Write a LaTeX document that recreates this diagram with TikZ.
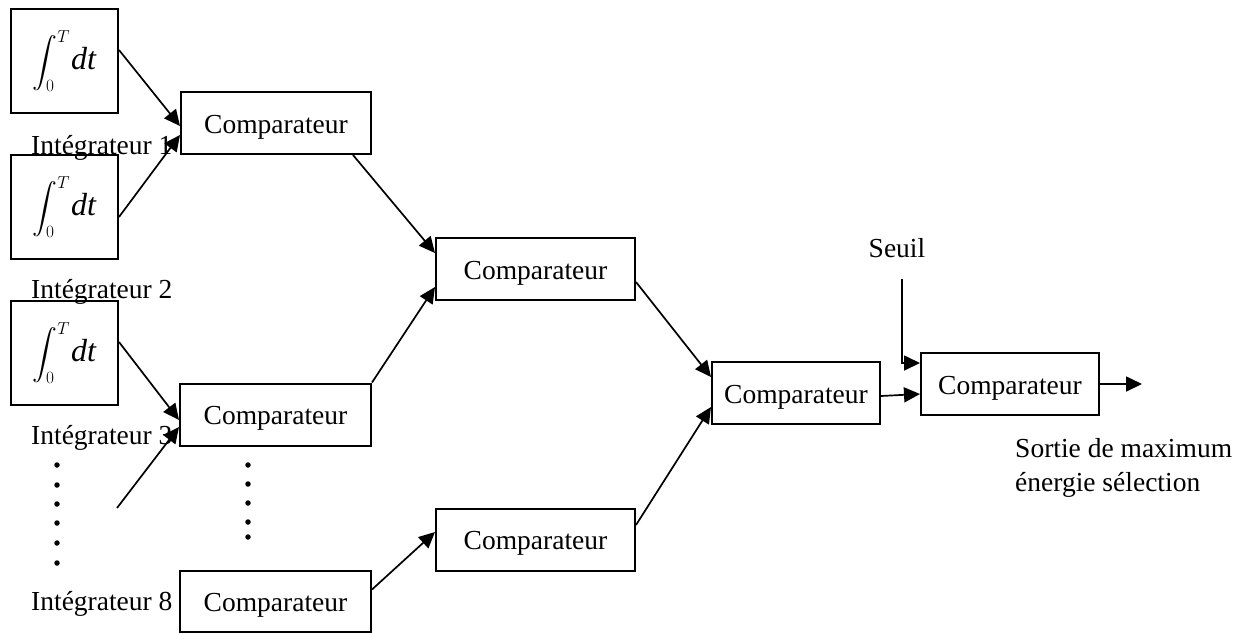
\documentclass[tikz,border=0pt]{standalone}
\usepackage{exscale}
\usepackage{fontspec}
\setmainfont{Liberation Serif}
\usetikzlibrary{arrows.meta}
\begin{document}
\begin{tikzpicture}[x=1pt,y=-1pt,
  font=\fontsize{27.5}{33}\selectfont,
  box/.style={draw,line width=2pt,inner sep=0pt,anchor=center},
  integ/.style={box,minimum width=107pt,minimum height=104pt},
  comp/.style={box,minimum height=62pt,text height=23pt,text depth=3pt},
  wire/.style={line width=1.7pt,-{Triangle[length=16pt,width=15pt]}},
  lbl/.style={anchor=base west,inner sep=0pt},
  dot/.style={fill,circle,inner sep=0pt,minimum size=5.5pt}]
\useasboundingbox (0,0) rectangle (1253,633);

% integrators
\newcommand{\integrand}{{\fontsize{23}{27}\selectfont$\displaystyle\int_0^T$}\hspace{1pt}{\fontsize{32}{36}\selectfont\textit{dt}}\hspace{4pt}}
\node[integ] (i1) at (64.5,61)  {\integrand};
\node[integ] (i2) at (64.5,207) {\integrand};
\node[integ] (i3) at (64.5,353) {\integrand};

\node[lbl] (l1) at (31,154) {Intégrateur 1};
\node[lbl] (l2) at (31,298) {Intégrateur 2};
\node[lbl] (l3) at (31,444) {Intégrateur 3};
\node[lbl] (l8) at (31,610) {Intégrateur 8};

% comparator tree
\node[comp,minimum width=190pt] (c1a) at (276,123)    {Comparateur};
\node[comp,minimum width=191pt] (c1b) at (275.5,414.5) {Comparateur};
\node[comp,minimum width=191pt,minimum height=61pt] (c1d) at (275.5,601) {Comparateur};
\node[comp,minimum width=199pt] (c2a) at (535.5,269)  {Comparateur};
\node[comp,minimum width=199pt] (c2b) at (535.5,539.5) {Comparateur};
\node[comp,minimum width=168pt] (c3)  at (796,393)    {Comparateur};
\node[comp,minimum width=178pt] (c4)  at (1010,384)   {Comparateur};

\node[anchor=base,inner sep=0pt] (seuil) at (897,257) {Seuil};
\node[lbl] (so1) at (1015,457) {Sortie de maximum};
\node[lbl] (so2) at (1015,491) {énergie sélection};

\coordinate (free) at (117,508);
\coordinate (s0) at (902,279);
\coordinate (s1) at (902,363);
\coordinate (out) at (1142,384);

% connectors
\draw[wire] ([yshift=11pt]i1.east) -- ([yshift=-3pt]c1a.west);
\draw[wire] ([yshift=-10pt]i2.east) -- ([yshift=-12pt]c1a.west);
\draw[wire] ([xshift=-19pt]c1a.south east) -- ([yshift=16pt]c2a.west);
\draw[wire] (c1b.north east) -- ([yshift=-18pt]c2a.west);
\draw[wire] ([yshift=11pt]i3.east) -- ([yshift=-5.5pt]c1b.west);
\draw[wire] (free) -- ([yshift=-12.5pt]c1b.west);
\draw[wire] ([yshift=11.5pt]c1d.east) -- ([yshift=7.5pt]c2b.west);
\draw[wire] ([yshift=-13pt]c2a.east) -- ([yshift=16pt]c3.west);
\draw[wire] ([yshift=14.5pt]c2b.east) -- ([yshift=-14pt]c3.west);
\draw[wire] ([yshift=-3pt]c3.east) -- ([yshift=-10pt]c4.west);
\draw[wire] (s0) -- (s1) -- ([yshift=21pt]c4.west);
\draw[wire] (c4.east) -- (out);

% ellipsis dots
\foreach \y in {465,485,504,523,543,563} \node[dot] at (57,\y) {};
\foreach \y in {465,484,503,522,537} \node[dot] at (248,\y) {};
\end{tikzpicture}
\end{document}
